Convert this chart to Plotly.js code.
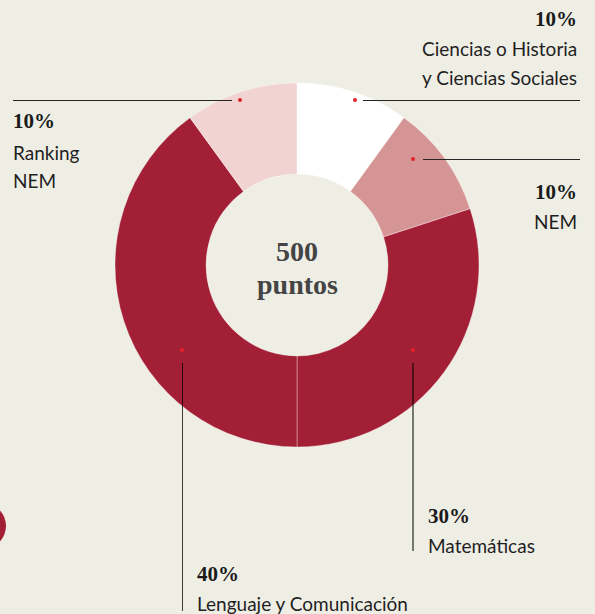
<!DOCTYPE html>
<html><head><meta charset="utf-8">
<script src="https://cdn.plot.ly/plotly-3.0.1.min.js"></script>
<style>html,body{margin:0;padding:0;background:#efeee5;}#chart{width:595px;height:614px;}</style>
</head><body><div id="chart"></div>
<script>
const labels = ["Ciencias o Historia y Ciencias Sociales", "NEM", "Matemáticas", "Lenguaje y Comunicación", "Ranking NEM"];
const values = [10, 10, 30, 40, 10];
const colors = ["#ffffff", "#d69595", "#a31f36", "#a31f36", "#f1d4d2"];
const pctLabels = ["10%", "10%", "30%", "40%", "10%"];
const nameLines = [["Ciencias o Historia", "y Ciencias Sociales"], ["NEM"], ["Matemáticas"], ["Lenguaje y Comunicación"], ["Ranking", "NEM"]];
const centerText = ["500", "puntos"];

const W = 595, H = 614;
const cx = 297, cy = 265, R = 182;
const BG = "#efeee5";
const serif = "Liberation Serif, DejaVu Serif, serif";
const sans = "Lato, Noto Sans, sans-serif";

const trace = {
  type: "pie", labels: labels, values: values, sort: false, direction: "clockwise", rotation: 0,
  hole: 0.5, textinfo: "none", hoverinfo: "skip", showlegend: false,
  marker: {colors: colors, line: {color: "rgba(255,255,255,0.35)", width: 1}},
  domain: {x: [(cx - R) / W, (cx + R) / W], y: [1 - (cy + R) / H, 1 - (cy - R) / H]}
};

const dots = [[355, 100], [413, 159], [413, 350], [182, 350], [240, 100]];

const lineCol = "#262626";
const shapes = [
  {type: "line", xref: "x", yref: "y", x0: 363, x1: 580, y0: 100.5, y1: 100.5, line: {color: lineCol, width: 1}},
  {type: "line", xref: "x", yref: "y", x0: 423, x1: 580, y0: 159.5, y1: 159.5, line: {color: lineCol, width: 1}},
  {type: "line", xref: "x", yref: "y", x0: 13, x1: 232, y0: 100.5, y1: 100.5, line: {color: lineCol, width: 1}},
  {type: "line", xref: "x", yref: "y", x0: 413, x1: 413, y0: 363, y1: 551, line: {color: "rgba(0,0,0,0.5)", width: 2}},
  {type: "line", xref: "x", yref: "y", x0: 182.5, x1: 182.5, y0: 363, y1: 611, line: {color: "rgba(0,0,0,0.75)", width: 1}},
  {type: "circle", xref: "x", yref: "y", x0: -40, x1: 6, y0: 503, y1: 549, fillcolor: "#a31f36", line: {width: 0}, layer: "below"}
].concat(dots.map(d => ({type: "circle", xref: "x", yref: "y", x0: d[0] - 2, x1: d[0] + 2, y0: d[1] - 2, y1: d[1] + 2,
  fillcolor: "#e3202c", line: {width: 0}, layer: "above"})));

function ann(x, y, text, anchor, font) {
  return {xref: "x", yref: "y", x: x, y: y, text: text, showarrow: false, xanchor: anchor, yanchor: "middle", font: font};
}
const pctFont = {family: serif, size: 21, color: "#1a1a1a"};
const nameFont = {family: sans, size: 19, color: "#1f1f1f"};
const centerFont = {family: serif, size: 28, color: "#444444"};
const annotations = [
  ann(579, 19, "<b>" + pctLabels[0] + "</b>", "right", pctFont),
  ann(579, 48, nameLines[0][0], "right", nameFont),
  ann(579, 77, nameLines[0][1], "right", nameFont),
  ann(579, 192, "<b>" + pctLabels[1] + "</b>", "right", pctFont),
  ann(579, 221, nameLines[1][0], "right", nameFont),
  ann(426, 516, "<b>" + pctLabels[2] + "</b>", "left", pctFont),
  ann(426, 545, nameLines[2][0], "left", nameFont),
  ann(195, 574, "<b>" + pctLabels[3] + "</b>", "left", pctFont),
  ann(195, 603, nameLines[3][0], "left", nameFont),
  ann(11, 121, "<b>" + pctLabels[4] + "</b>", "left", pctFont),
  ann(11, 152, nameLines[4][0], "left", nameFont),
  ann(11, 180, nameLines[4][1], "left", nameFont),
  ann(cx, 251, "<b>" + centerText[0] + "</b>", "center", centerFont),
  ann(cx, 284, "<b>" + centerText[1] + "</b>", "center", centerFont)
];

const layout = {
  width: W, height: H, margin: {l: 0, r: 0, t: 0, b: 0},
  paper_bgcolor: BG, plot_bgcolor: "rgba(0,0,0,0)",
  xaxis: {range: [0, W], visible: false, fixedrange: true},
  yaxis: {range: [H, 0], visible: false, fixedrange: true},
  shapes: shapes, annotations: annotations, showlegend: false
};
Plotly.newPlot("chart", [trace], layout, {staticPlot: true, displayModeBar: false});
</script></body></html>
